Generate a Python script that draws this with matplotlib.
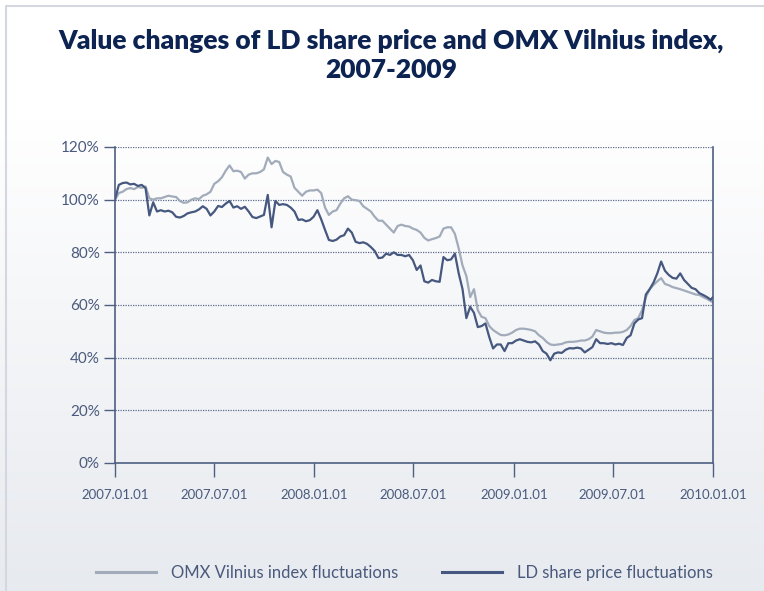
import numpy as np
import pandas as pd
import matplotlib
matplotlib.use('Agg')
import matplotlib.pyplot as plt
from matplotlib.ticker import FuncFormatter

# weekly readings, 2007-01-01 .. 2009-12-28, plus 2010-01-01
dates = list(pd.date_range('2007-01-01', periods=157, freq='7D')) + [pd.Timestamp('2010-01-01')]

ld = [100, 105.6, 106.3, 106.5, 105.8, 106.0, 105.2, 105.6, 104.4, 94.0,
      99.0, 95.5, 96.0, 95.5, 95.8, 95.2, 93.5, 93.2, 93.8, 94.8,
      95.2, 95.5, 96.3, 97.5, 96.5, 94.0, 95.5, 97.6, 97.2, 98.5,
      99.5, 97.0, 97.5, 96.5, 97.3, 95.5, 93.4, 93.0, 93.6, 94.2,
      101.8, 89.5, 99.5, 98.0, 98.3, 98.0, 97.0, 95.5, 92.3, 92.5,
      91.8, 92.2, 93.5, 96.0, 92.5, 88.5, 84.7, 84.3, 84.8, 86.0,
      86.5, 89.0, 87.5, 84.0, 83.5, 83.8, 83.2, 82.0, 80.5, 77.8,
      78.0, 79.5, 79.0, 80.0, 79.0, 79.0, 78.5, 79.0, 77.0, 73.3,
      75.0, 69.0, 68.5, 69.5, 69.0, 68.8, 78.2, 77.0, 77.3, 79.5,
      72.0, 66.0, 55.0, 59.3, 57.0, 51.6, 52.0, 53.0, 47.8, 43.5,
      45.0, 45.0, 42.5, 45.5, 45.5, 46.5, 47.0, 46.5, 46.0, 45.8,
      46.2, 45.0, 42.5, 41.5, 39.0, 41.5, 42.0, 41.8, 43.0, 43.6,
      43.5, 43.8, 43.5, 42.0, 43.0, 44.0, 47.0, 45.5, 45.5, 45.2,
      45.5, 45.0, 45.3, 44.8, 47.5, 48.5, 53.0, 54.5, 55.0, 64.0,
      66.0, 68.5, 72.0, 76.5, 73.0, 71.4, 70.3, 70.0, 72.0, 69.5,
      68.0, 66.5, 66.0, 64.5, 63.8, 63.0, 62.0, 63.0]

omx = [100, 102.5, 103, 104, 104.4, 104, 104.8, 104.5, 105, 100.5,
       100, 100.5, 100.5, 101, 101.5, 101.2, 101, 99.5, 98.8, 99,
       100, 100.5, 100.2, 101.5, 102, 103, 106, 107, 108.5, 111,
       113, 110.8, 111, 110.5, 108, 109.5, 110, 110, 110.5, 111.5,
       116, 113.5, 114.7, 114.3, 110.5, 109.5, 108.8, 104.5, 103, 101.5,
       103, 103.5, 103.5, 103.8, 102.5, 97, 94.2, 95.5, 96, 98.5,
       100.5, 101.3, 100, 99.8, 99.5, 97.5, 96.5, 95.5, 93.5, 92,
       92, 90.5, 89, 87.5, 90, 90.5, 90, 89.8, 89, 88.5,
       87.5, 85.5, 84.5, 85, 85.4, 86, 89, 89.5, 89.5, 87,
       81.5, 75, 71, 63, 66, 58, 55.5, 55, 52, 50.5,
       49.5, 48.6, 48.5, 48.8, 49.5, 50.5, 51, 51, 50.8, 50.5,
       50, 48.5, 47.5, 46, 45, 44.8, 45, 45.2, 45.8, 46,
       46, 46.2, 46.5, 46.5, 47, 48, 50.5, 50, 49.5, 49.3,
       49.3, 49.5, 49.5, 49.8, 50.5, 52, 54.3, 55, 58, 63,
       66, 67.6, 69, 70.2, 68, 67.5, 66.8, 66.4, 66, 65.5,
       65, 64.5, 64, 63.8, 63, 62.3, 61.5, 61]

tick_dates = ['2007-01-01', '2007-07-01', '2008-01-01', '2008-07-01',
              '2009-01-01', '2009-07-01', '2010-01-01']
tick_labels = ['2007.01.01', '2007.07.01', '2008.01.01', '2008.07.01',
               '2009.01.01', '2009.07.01', '2010.01.01']

navy = '#0d2452'
dark = '#46587f'
light = '#a1abba'
txt = '#4a5a7c'

plt.rcParams['font.family'] = ['Lato', 'DejaVu Sans']

fig = plt.figure(figsize=(7.64, 5.91), dpi=100)

# background gradient + frame
bg = fig.add_axes([0, 0, 1, 1], zorder=-10)
grad = np.linspace(0, 1, 256).reshape(-1, 1)
top = np.array([1.0, 1.0, 1.0])
bot = np.array([0xe7, 0xea, 0xef]) / 255
img = top + (bot - top) * np.clip((grad - 0.2) / 0.8, 0, 1)[..., None]
bg.imshow(img.reshape(256, 1, 3), aspect='auto', extent=[0, 1, 0, 1], origin='upper')
bg.plot([0.008, 0.008, 1.0], [0.0, 0.99, 0.99], color='#d3d8e0', lw=1.5)
bg.set_xlim(0, 1)
bg.set_ylim(0, 1)
bg.axis('off')

fig.text(0.512, 0.907, 'Value changes of LD share price and OMX Vilnius index,\n2007-2009',
         ha='center', va='center', fontsize=19, fontweight='heavy', color=navy,
         linespacing=1.25)

ax = fig.add_axes([0.1505, 0.2166, 0.7827, 0.5347])
ax.patch.set_alpha(0)

ax.plot(dates, omx, color=light, lw=1.6, label='OMX Vilnius index fluctuations')
ax.plot(dates, ld, color=dark, lw=1.6, label='LD share price fluctuations')

ax.set_xlim(pd.Timestamp('2007-01-01'), pd.Timestamp('2010-01-01'))
ax.set_ylim(0, 120)
ax.set_yticks(range(0, 121, 20))
ax.yaxis.set_major_formatter(FuncFormatter(lambda v, p: '%d%%' % v))
ax.set_xticks([pd.Timestamp(d) for d in tick_dates])
ax.set_xticklabels(tick_labels)

ax.grid(axis='y', linestyle=(0, (1, 1)), color='#5b6b8c', lw=0.9)
for s in ['left', 'bottom', 'right']:
    ax.spines[s].set_color('#4e5f82')
    ax.spines[s].set_linewidth(1.2)
ax.spines['top'].set_visible(False)

ax.tick_params(axis='y', direction='out', length=8, width=1, color='#4e5f82',
               labelsize=11, labelcolor=txt, pad=3)
ax.tick_params(axis='x', direction='out', length=10, width=1, color='#4e5f82',
               labelsize=9.5, labelcolor=txt, pad=9)

leg = fig.legend(loc='center', bbox_to_anchor=(0.529, 0.03), ncol=2, frameon=False,
                 fontsize=12, handlelength=3.6, columnspacing=2.6, handletextpad=0.9,
                 labelcolor=txt)
for h in leg.get_lines():
    h.set_linewidth(2.2)

fig.savefig('out.png', dpi=100)
